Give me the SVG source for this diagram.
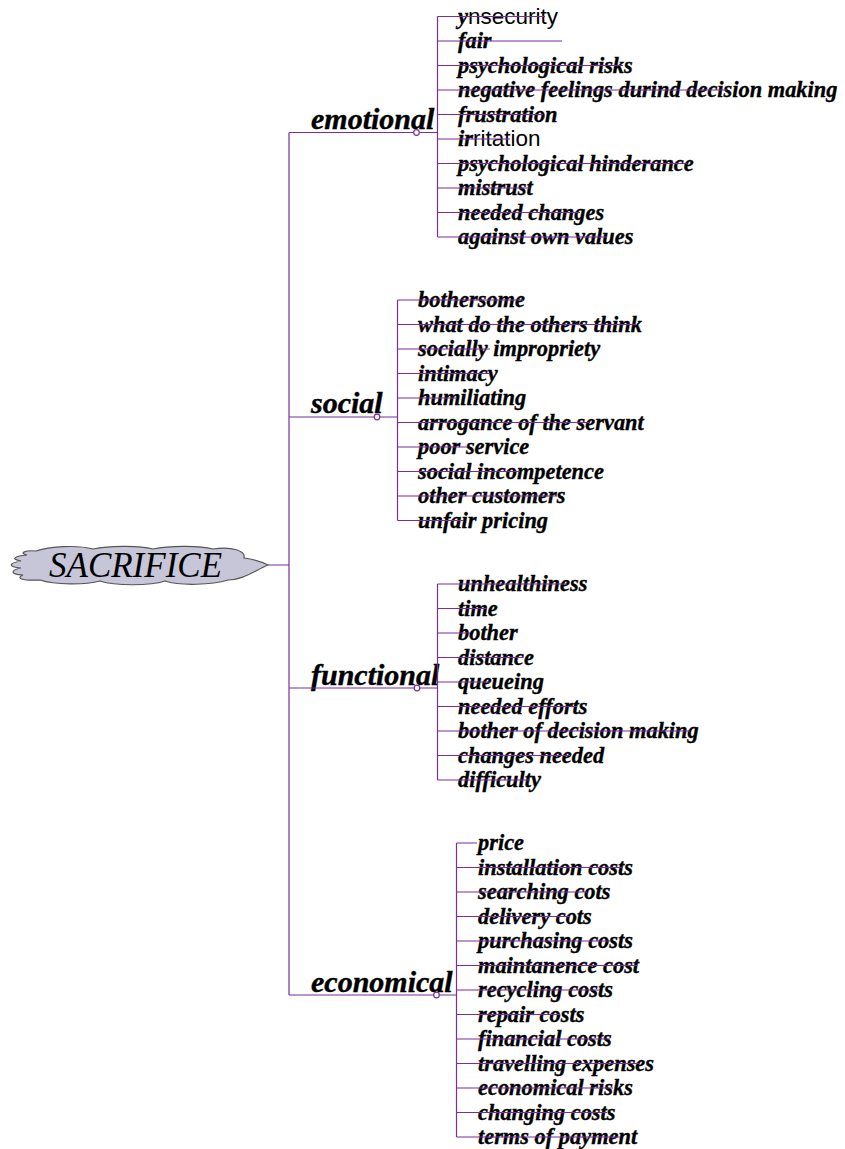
<svg xmlns="http://www.w3.org/2000/svg" width="845" height="1149" viewBox="0 0 845 1149">
  <style>
    .leaf { font-family: "Liberation Serif", "Times New Roman", serif; font-weight: bold; font-style: italic; font-size: 22.4px; fill: #000; stroke: #000; stroke-width: 0.35; }
    .sans { font-family: "Liberation Sans", Arial, sans-serif; font-weight: normal; font-style: normal; font-size: 22.5px; stroke: none; }
    .cat { font-family: "Liberation Serif", "Times New Roman", serif; font-weight: bold; font-style: italic; font-size: 30px; fill: #000; stroke: #000; stroke-width: 0.4; }
    .root { font-family: "Liberation Serif", "Times New Roman", serif; font-style: italic; font-size: 35px; fill: #000; }
    .wire { stroke: #7b2d9b; stroke-width: 1.2; fill: none; }
    .knob { stroke: #7b2d9b; stroke-width: 1.2; fill: #fff; }
  </style>
  <rect width="845" height="1149" fill="#fff"/>

  <!-- root cloud -->
  <g id="sacrifice">
    <path d="M268 565 C260 561 252 559 244 558 C246 551 232 546 213 549 C198 545 168 546 153 549 C138 545 108 546 93 549 C78 545 50 546 36 551 C26 550 18 553 27 555 C16 556 9 559 21 561 C9 563 7 567 21 568 C11 570 9 574 23 575 C16 578 21 581 40 580 C55 585 85 585 100 581 C115 586 150 586 165 581 C180 586 212 585 228 580 C243 580 254 571 268 565 Z" fill="#c6c6d8" stroke="#555" stroke-width="1.2"/>
    <text class="root" x="49" y="577">SACRIFICE</text>
  </g>

  <!-- category labels -->
  <g id="emotional"><text class="cat" x="311" y="129">emotional</text></g>
  <g id="social"><text class="cat" x="311" y="413">social</text></g>
  <g id="functional"><text class="cat" x="311" y="685">functional</text></g>
  <g id="economical"><text class="cat" x="311" y="992">economical</text></g>

  <!-- emotional leaves -->
  <g id="em-1"><text class="leaf" x="458" y="23.5">y<tspan class="sans">nsecurity</tspan></text></g>
  <g id="em-2"><text class="leaf" x="458" y="48">fair</text></g>
  <g id="em-3"><text class="leaf" x="458" y="72.5">psychological risks</text></g>
  <g id="em-4"><text class="leaf" x="458" y="97">negative feelings durind decision making</text></g>
  <g id="em-5"><text class="leaf" x="458" y="121.5">frustration</text></g>
  <g id="em-6"><text class="leaf" x="458" y="146">ir<tspan class="sans">ritation</tspan></text></g>
  <g id="em-7"><text class="leaf" x="458" y="170.5">psychological hinderance</text></g>
  <g id="em-8"><text class="leaf" x="458" y="195">mistrust</text></g>
  <g id="em-9"><text class="leaf" x="458" y="219.5">needed changes</text></g>
  <g id="em-10"><text class="leaf" x="458" y="244">against own values</text></g>

  <!-- social leaves -->
  <g id="so-1"><text class="leaf" x="418" y="307">bothersome</text></g>
  <g id="so-2"><text class="leaf" x="418" y="331.5">what do the others think</text></g>
  <g id="so-3"><text class="leaf" x="418" y="356">socially impropriety</text></g>
  <g id="so-4"><text class="leaf" x="418" y="380.5">intimacy</text></g>
  <g id="so-5"><text class="leaf" x="418" y="405">humiliating</text></g>
  <g id="so-6"><text class="leaf" x="418" y="429.5">arrogance of the servant</text></g>
  <g id="so-7"><text class="leaf" x="418" y="454">poor service</text></g>
  <g id="so-8"><text class="leaf" x="418" y="478.5">social incompetence</text></g>
  <g id="so-9"><text class="leaf" x="418" y="503">other customers</text></g>
  <g id="so-10"><text class="leaf" x="418" y="527.5">unfair pricing</text></g>

  <!-- functional leaves -->
  <g id="fu-1"><text class="leaf" x="458" y="591">unhealthiness</text></g>
  <g id="fu-2"><text class="leaf" x="458" y="615.5">time</text></g>
  <g id="fu-3"><text class="leaf" x="458" y="640">bother</text></g>
  <g id="fu-4"><text class="leaf" x="458" y="664.5">distance</text></g>
  <g id="fu-5"><text class="leaf" x="458" y="689">queueing</text></g>
  <g id="fu-6"><text class="leaf" x="458" y="713.5">needed efforts</text></g>
  <g id="fu-7"><text class="leaf" x="458" y="738">bother of decision making</text></g>
  <g id="fu-8"><text class="leaf" x="458" y="762.5">changes needed</text></g>
  <g id="fu-9"><text class="leaf" x="458" y="787">difficulty</text></g>

  <!-- economical leaves -->
  <g id="ec-1"><text class="leaf" x="478" y="850">price</text></g>
  <g id="ec-2"><text class="leaf" x="478" y="874.5">installation costs</text></g>
  <g id="ec-3"><text class="leaf" x="478" y="899">searching cots</text></g>
  <g id="ec-4"><text class="leaf" x="478" y="923.5">delivery cots</text></g>
  <g id="ec-5"><text class="leaf" x="478" y="948">purchasing costs</text></g>
  <g id="ec-6"><text class="leaf" x="478" y="972.5">maintanence cost</text></g>
  <g id="ec-7"><text class="leaf" x="478" y="997">recycling costs</text></g>
  <g id="ec-8"><text class="leaf" x="478" y="1021.5">repair costs</text></g>
  <g id="ec-9"><text class="leaf" x="478" y="1046">financial costs</text></g>
  <g id="ec-10"><text class="leaf" x="478" y="1070.5">travelling expenses</text></g>
  <g id="ec-11"><text class="leaf" x="478" y="1095">economical risks</text></g>
  <g id="ec-12"><text class="leaf" x="478" y="1119.5">changing costs</text></g>
  <g id="ec-13"><text class="leaf" x="478" y="1144">terms of payment</text></g>

  <!-- connectors -->
  <g id="connectors">
    <!-- trunk -->
    <path class="wire" d="M268 565 H289 M289 132.5 V995 M289 132.5 H437.5 M289 417 H397.5 M289 688 H437.5 M289 995 H456.5"/>
    <!-- brackets -->
    <path class="wire" d="M437.5 16.5 V237 M397.5 300 V520.5 M437.5 584 V780 M456.5 843 V1137"/>
    <!-- emotional branches -->
    <path class="wire" d="M437.5 16.5 H545 M437.5 41 H562 M437.5 65.5 H623 M437.5 90 H727 M437.5 114.5 H543 M437.5 139 H510 M437.5 163.5 H687 M437.5 188 H530 M437.5 212.5 H580 M437.5 237 H607"/>
    <!-- social branches -->
    <path class="wire" d="M397.5 300 H523 M397.5 324.5 H637 M397.5 349 H490 M397.5 373.5 H490 M397.5 398 H457 M397.5 422.5 H590 M397.5 447 H467 M397.5 471.5 H520 M397.5 496 H557 M397.5 520.5 H463"/>
    <!-- functional branches -->
    <path class="wire" d="M437.5 584 H567 M437.5 608.5 H487 M437.5 633 H470 M437.5 657.5 H523 M437.5 682 H490 M437.5 706.5 H577 M437.5 731 H690 M437.5 755.5 H570 M437.5 780 H530"/>
    <!-- economical branches -->
    <path class="wire" d="M456.5 843 H477 M456.5 867.5 H623 M456.5 892 H587 M456.5 916.5 H570 M456.5 941 H610 M456.5 965.5 H637 M456.5 990 H600 M456.5 1014.5 H560 M456.5 1039 H610 M456.5 1063.5 H640 M456.5 1088 H613 M456.5 1112.5 H607 M456.5 1137 H620"/>
    <!-- junction knobs -->
    <circle class="knob" cx="416.5" cy="132.5" r="2.8"/>
    <circle class="knob" cx="377" cy="417" r="2.8"/>
    <circle class="knob" cx="417" cy="688" r="2.8"/>
    <circle class="knob" cx="436.5" cy="995" r="2.8"/>
  </g>
</svg>
